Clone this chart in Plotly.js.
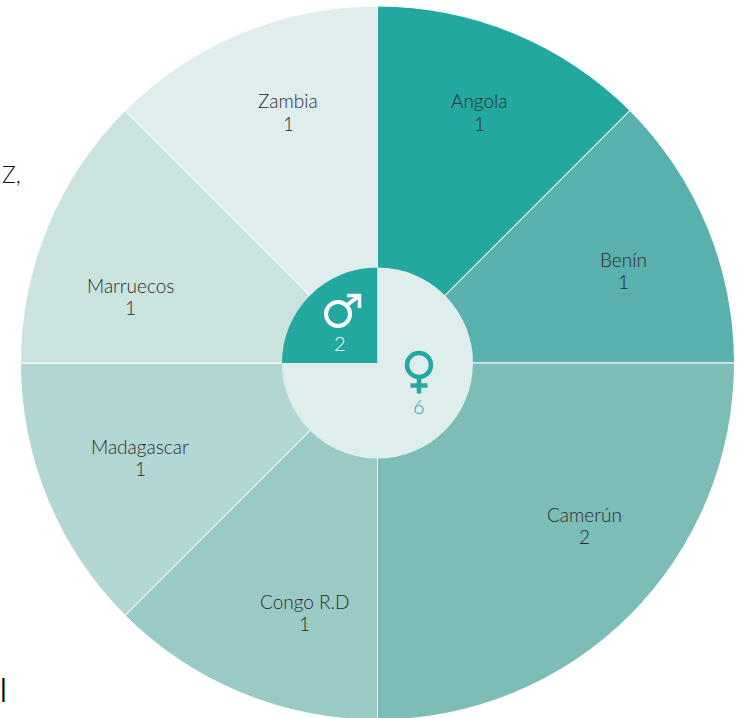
<!DOCTYPE html>
<html>
<head>
<meta charset="utf-8">
<script src="https://cdn.plot.ly/plotly-3.0.0.min.js"></script>
<style>html,body{margin:0;padding:0;background:#fff;overflow:hidden;width:747px;height:718px}</style>
</head>
<body>
<div id="chart"></div>
<script>
const countries = ["Angola","Benín","Camerún","Congo R.D","Madagascar","Marruecos","Zambia"];
const countryCounts = [1,1,2,1,1,1,1];
const countryColors = ["#23a8a0","#58b1ad","#7cbdb8","#9acac6","#b2d6d3","#cae3df","#dfeeec"];
const genders = ["Hombres","Mujeres"];
const genderCounts = [2,6];
const genderColors = ["#23a8a0","#dfeeec"];
const genderTextColors = ["#ffffff","#23a8a0"];

// layout helpers (page pixels)
const W = 747, H = 730, FONT = "Lato, 'Open Sans', sans-serif";
const cx = 377.5, cy = 363, rOuter = 357, rInner = 95.5;
const dom = r => ({x:[(cx-r)/W,(cx+r)/W], y:[(H-cy-r)/H,(H-cy+r)/H]});
const labelAt = [[479,101],[623,259],[584,514],[304,601],[140,446],[130,285],[288,101]];
const genderNumberAt = [[339.5,343],[418.5,406]];
const px = x => x/W, py = y => 1-y/H;

const annotations = [];
const addText = (text,x,y,size,color,family) => annotations.push({
  text, x:px(x), y:py(y), xref:"paper", yref:"paper", xanchor:"center", yanchor:"middle",
  showarrow:false, font:{family:family||FONT,size,color,weight:300}
});
countries.forEach((c,i)=>{
  addText(c,labelAt[i][0],labelAt[i][1],19,"#2a2a2a");
  addText(String(countryCounts[i]),labelAt[i][0],labelAt[i][1]+22,19,"#2a2a2a");
});
genders.forEach((g,i)=>addText(String(genderCounts[i]),genderNumberAt[i][0],genderNumberAt[i][1],20,genderTextColors[i]));
addText("Z,",11,174,23,"#111111");
addText("|",3.5,687.5,26,"#000000","Liberation Sans");

// gender icons (pictograms, not data marks)
const seg = (x0,y0,x1,y1,color,w) => ({type:"line",xref:"paper",yref:"paper",x0:px(x0),y0:py(y0),x1:px(x1),y1:py(y1),line:{color,width:w}});
const ring = (x,y,r,color,w) => ({type:"circle",xref:"paper",yref:"paper",x0:px(x-r),x1:px(x+r),y0:py(y-r),y1:py(y+r),line:{color,width:w},fillcolor:"rgba(0,0,0,0)"});
const shapes = [
  ring(338,314,12,"#ffffff",4), seg(347,305,359,296,"#ffffff",4), seg(347,295.5,361,295.5,"#ffffff",3.5), seg(359.5,294,359.5,308,"#ffffff",3.5),
  ring(419,365,12,"#23a8a0",4.5), seg(419,378,419,393.5,"#23a8a0",4.5), seg(410.5,385.5,427.5,385.5,"#23a8a0",4.5)
];

Plotly.newPlot("chart",[
  {type:"pie",labels:countries,values:countryCounts,sort:false,direction:"clockwise",rotation:0,
   marker:{colors:countryColors,line:{color:"#ffffff",width:1}},textinfo:"none",hoverinfo:"label+value",domain:dom(rOuter)},
  {type:"pie",labels:genders,values:genderCounts,sort:false,direction:"clockwise",rotation:-90,
   marker:{colors:genderColors,line:{color:"#dfeeec",width:0}},textinfo:"none",hoverinfo:"label+value",domain:dom(rInner)}
],{
  width:W,height:H,margin:{l:0,r:0,t:0,b:0},showlegend:false,paper_bgcolor:"#ffffff",
  annotations,shapes
},{displayModeBar:false,staticPlot:true});
</script>
</body>
</html>
